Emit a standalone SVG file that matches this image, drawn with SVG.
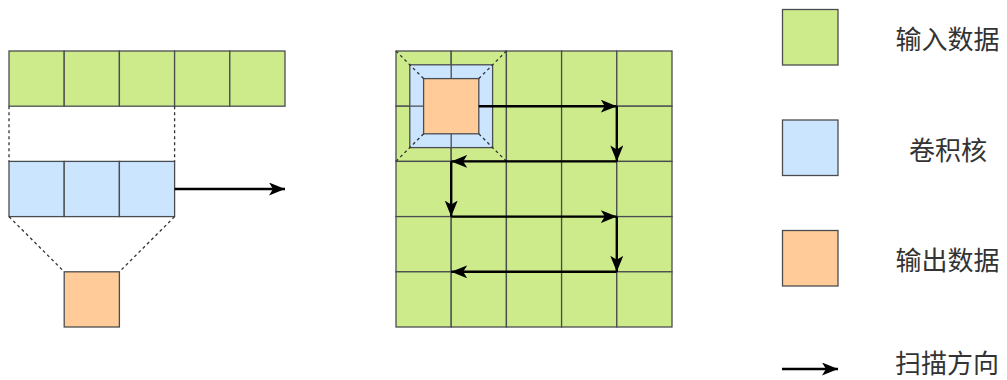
<svg xmlns="http://www.w3.org/2000/svg" width="1007" height="380" viewBox="0 0 1007 380">
<defs>
<style>
.g{fill:#cdeb8b;stroke:#4a4d50;stroke-width:1.3}
.b{fill:#cce5ff;stroke:#4a4d50;stroke-width:1.3}
.o{fill:#ffcc99;stroke:#4a4d50;stroke-width:1.3}
.gl{fill:none;stroke:#4a4d50;stroke-width:1.3}
.d{fill:none;stroke:#333;stroke-width:1.3;stroke-dasharray:3 3}
.a{fill:none;stroke:#000;stroke-width:2.4;marker-end:url(#ah)}
.t{font-family:"Noto Sans CJK SC","Noto Sans",sans-serif;font-size:26px;fill:#333;text-anchor:middle;dominant-baseline:central}
</style>
<marker id="ah" markerUnits="userSpaceOnUse" viewBox="0 0 16 13" refX="16" refY="6.5" markerWidth="16" markerHeight="13" orient="auto">
<path d="M0,0 L16,6.5 L0,13 L4,6.5 Z" fill="#000"/>
</marker>
</defs>
<rect width="1007" height="380" fill="#fff"/>

<g id="left-input">
<rect class="g" x="9" y="51" width="55.2" height="55.2"/>
<rect class="g" x="64.2" y="51" width="55.2" height="55.2"/>
<rect class="g" x="119.4" y="51" width="55.2" height="55.2"/>
<rect class="g" x="174.6" y="51" width="55.2" height="55.2"/>
<rect class="g" x="229.8" y="51" width="55.2" height="55.2"/>
</g>
<g id="left-kernel">
<rect class="b" x="9" y="161.4" width="55.2" height="55.2"/>
<rect class="b" x="64.2" y="161.4" width="55.2" height="55.2"/>
<rect class="b" x="119.4" y="161.4" width="55.2" height="55.2"/>
</g>
<g id="left-output">
<rect class="o" x="64.2" y="271.8" width="55.2" height="55.2"/>
</g>

<g id="grid-input">
<rect class="g" x="396" y="51" width="55.2" height="55.2"/>
<rect class="g" x="451.2" y="51" width="55.2" height="55.2"/>
<rect class="g" x="506.4" y="51" width="55.2" height="55.2"/>
<rect class="g" x="561.6" y="51" width="55.2" height="55.2"/>
<rect class="g" x="616.8" y="51" width="55.2" height="55.2"/>
<rect class="g" x="396" y="106.2" width="55.2" height="55.2"/>
<rect class="g" x="451.2" y="106.2" width="55.2" height="55.2"/>
<rect class="g" x="506.4" y="106.2" width="55.2" height="55.2"/>
<rect class="g" x="561.6" y="106.2" width="55.2" height="55.2"/>
<rect class="g" x="616.8" y="106.2" width="55.2" height="55.2"/>
<rect class="g" x="396" y="161.4" width="55.2" height="55.2"/>
<rect class="g" x="451.2" y="161.4" width="55.2" height="55.2"/>
<rect class="g" x="506.4" y="161.4" width="55.2" height="55.2"/>
<rect class="g" x="561.6" y="161.4" width="55.2" height="55.2"/>
<rect class="g" x="616.8" y="161.4" width="55.2" height="55.2"/>
<rect class="g" x="396" y="216.6" width="55.2" height="55.2"/>
<rect class="g" x="451.2" y="216.6" width="55.2" height="55.2"/>
<rect class="g" x="506.4" y="216.6" width="55.2" height="55.2"/>
<rect class="g" x="561.6" y="216.6" width="55.2" height="55.2"/>
<rect class="g" x="616.8" y="216.6" width="55.2" height="55.2"/>
<rect class="g" x="396" y="271.8" width="55.2" height="55.2"/>
<rect class="g" x="451.2" y="271.8" width="55.2" height="55.2"/>
<rect class="g" x="506.4" y="271.8" width="55.2" height="55.2"/>
<rect class="g" x="561.6" y="271.8" width="55.2" height="55.2"/>
<rect class="g" x="616.8" y="271.8" width="55.2" height="55.2"/>
</g>
<g id="grid-kernel">
<rect class="b" x="409.8" y="64.8" width="82.8" height="82.8"/>
<path class="gl" d="M451.2,64.8 V147.6 M409.8,106.2 H492.6"/>
</g>
<g id="grid-output">
<rect class="o" x="423.6" y="78.6" width="55.2" height="55.2"/>
</g>

<g id="connectors">
<path class="d" d="M9,106.2 V161.4 M174.6,106.2 V161.4"/>
<path class="d" d="M9,216.6 L64.2,271.8 M174.6,216.6 L119.4,271.8"/>
<path class="d" d="M396,51 L423.6,78.6 M506.4,51 L478.8,78.6 M396,161.4 L423.6,133.8 M506.4,161.4 L478.8,133.8"/>
<path class="a" d="M174.6,189 H285"/>
<path class="a" d="M478.8,106.2 H616.8"/>
<path class="a" d="M616.8,106.2 V161.4"/>
<path class="a" d="M616.8,161.4 H451.2"/>
<path class="a" d="M451.2,161.4 V216.6"/>
<path class="a" d="M451.2,216.6 H616.8"/>
<path class="a" d="M616.8,216.6 V271.8"/>
<path class="a" d="M616.8,271.8 H451.2"/>
</g>

<g id="legend-input">
<rect class="g" x="782.5" y="9.5" width="55.5" height="55.5"/>
<text class="t" x="947.5" y="37">输入数据</text>
</g>
<g id="legend-kernel">
<rect class="b" x="782.5" y="120" width="55.5" height="55.5"/>
<text class="t" x="948" y="148.5">卷积核</text>
</g>
<g id="legend-output">
<rect class="o" x="782.5" y="230.5" width="55.5" height="55.5"/>
<text class="t" x="947.5" y="258">输出数据</text>
</g>
<g id="legend-scan">
<path class="a" d="M782,369 H838"/>
<text class="t" x="947" y="361">扫描方向</text>
</g>
</svg>
